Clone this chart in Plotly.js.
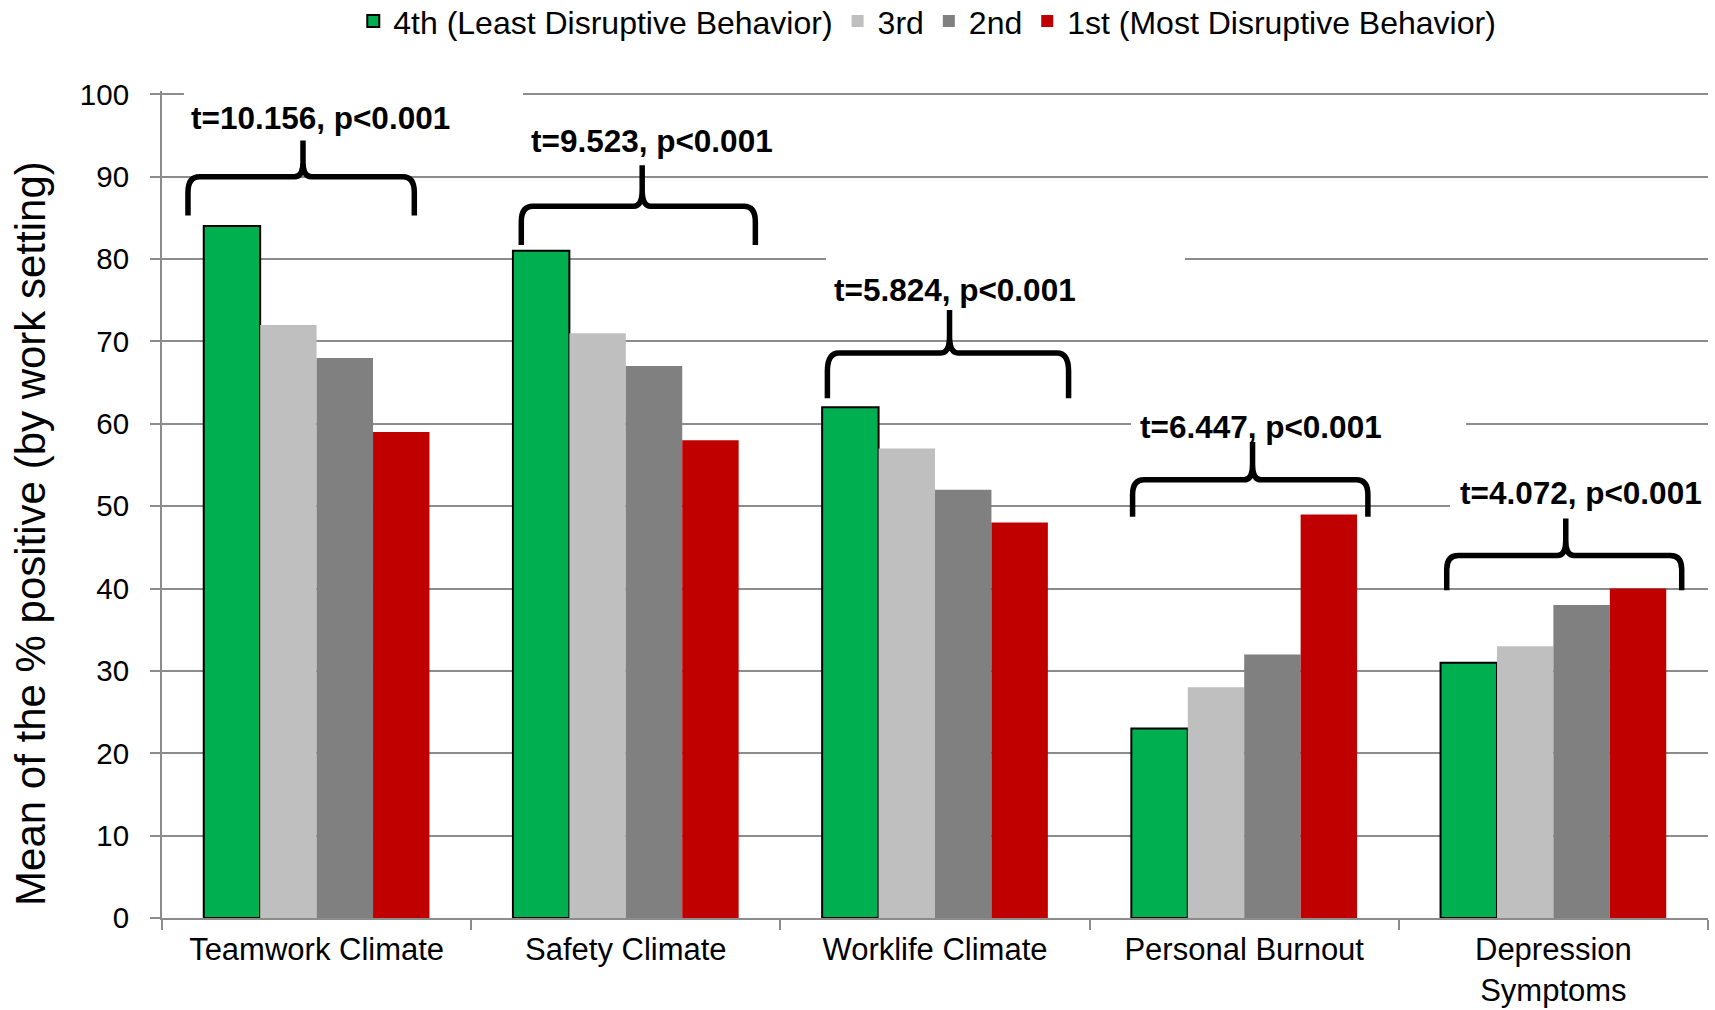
<!DOCTYPE html>
<html>
<head>
<meta charset="utf-8">
<script src="https://cdn.plot.ly/plotly-3.0.1.min.js"></script>
<style>
  html, body { margin: 0; padding: 0; background: #ffffff; }
  #chart { width: 1715px; height: 1010px; }
</style>
</head>
<body>
<div id="chart"></div>
<script>
// ---- Data ----
const categories = ["Teamwork Climate", "Safety Climate", "Worklife Climate", "Personal Burnout", "Depression<br>Symptoms"];
const seriesNames = ["4th (Least Disruptive Behavior)", "3rd", "2nd", "1st (Most Disruptive Behavior)"];
const fourthValues = [84, 81, 62, 23, 31];
const thirdValues  = [72, 71, 57, 28, 33];
const secondValues = [68, 67, 52, 32, 38];
const firstValues  = [59, 58, 48, 49, 40];
const statLabels = ["t=10.156, p&lt;0.001", "t=9.523, p&lt;0.001", "t=5.824, p&lt;0.001", "t=6.447, p&lt;0.001", "t=4.072, p&lt;0.001"];
const yTickValues = [0, 10, 20, 30, 40, 50, 60, 70, 80, 90, 100];
const yTitle = "Mean of the % positive (by work setting)";

// ---- Styles ----
const colors = ["#00B050", "#BFBFBF", "#808080", "#C00000"];
const FONT = "Liberation Sans, Arial, sans-serif";
const GRID = "#8C8C8C";

const valueSets = [fourthValues, thirdValues, secondValues, firstValues];
const traces = valueSets.map((vals, i) => ({
  type: "bar",
  name: seriesNames[i],
  x: categories,
  y: vals,
  marker: {
    color: colors[i],
    line: i === 0 ? { color: "#000000", width: 2 } : { width: 0 }
  },
  hoverinfo: "x+y+name"
}));

// category index -> paper x (5 categories across the domain)
const nCat = categories.length;
const c2p = c => (c + 0.5) / nCat;

// brace decoration geometry (category units / data units)
const braceGeom = [
  { L: -0.416, R: 0.316, C: -0.044, yb: 85.3, yt: 90.0, ytip: 94.4 },
  { L: 0.662,  R: 1.419, C: 1.053,  yb: 81.7, yt: 86.4, ytip: 91.4 },
  { L: 1.652,  R: 2.432, C: 2.047,  yb: 63.1, yt: 68.6, ytip: 73.8 },
  { L: 2.639,  R: 3.400, C: 3.027,  yb: 48.7, yt: 53.2, ytip: 57.8 },
  { L: 3.655,  R: 4.415, C: 4.040,  yb: 39.8, yt: 44.0, ytip: 48.5 }
];
// annotation text positions (paper x, data y)
const labelPos = [
  { x: 0.1022, y: 97.1 },
  { x: 0.3169, y: 94.3 },
  { x: 0.5129, y: 76.3 },
  { x: 0.7109, y: 59.6 },
  { x: 0.9179, y: 51.6 }
];
// white boxes that hide gridlines behind the text boxes (category / data units)
const whiteBoxes = [
  { x0: -0.429, x1: 0.6675, y0: 93,   y1: 100.4, layer: "above" },
  { x0: 1.6475, x1: 2.8085, y0: 72.6, y1: 81,    layer: "between" },
  { x0: 2.634,  x1: 3.7175, y0: 57.5, y1: 62,    layer: "between" },
  { x0: 3.6655, x1: 4.5,    y0: 47.5, y1: 53,    layer: "between" }
];

function bracePath(g) {
  const L = c2p(g.L), R = c2p(g.R), C = c2p(g.C);
  const dx = 0.0075, dxc = 0.0055;
  const h = g.yt - g.yb, r = g.ytip - g.yt;
  const yl = g.yt - 0.4 * h, yc = g.yt + 0.4 * r;
  return `M${L},${g.yb} L${L},${yl} Q${L},${g.yt} ${L + dx},${g.yt} ` +
         `L${C - dxc},${g.yt} Q${C},${g.yt} ${C},${yc} L${C},${g.ytip} ` +
         `L${C},${yc} Q${C},${g.yt} ${C + dxc},${g.yt} ` +
         `L${R - dx},${g.yt} Q${R},${g.yt} ${R},${yl} L${R},${g.yb}`;
}

const shapes = [];
whiteBoxes.forEach(b => shapes.push({
  type: "rect", xref: "x", yref: "y",
  x0: b.x0, x1: b.x1, y0: b.y0, y1: b.y1,
  fillcolor: "#ffffff", line: { width: 0 }, layer: b.layer
}));
braceGeom.forEach(g => shapes.push({
  type: "path", xref: "paper", yref: "y",
  path: bracePath(g),
  line: { color: "#000000", width: 5.5 },
  fillcolor: "rgba(0,0,0,0)",
  layer: "above"
}));

const annotations = statLabels.map((t, i) => ({
  text: "<b>" + t + "</b>",
  xref: "paper", yref: "y",
  x: labelPos[i].x, y: labelPos[i].y,
  xanchor: "center", yanchor: "middle",
  showarrow: false,
  font: { family: FONT, size: 31.5, color: "#000000" }
}));
// y-axis title (placed as rotated text so it sits where the original has it)
annotations.push({
  text: yTitle,
  xref: "paper", yref: "paper",
  x: -0.0855, y: 0.4654,
  xanchor: "center", yanchor: "middle",
  textangle: -90,
  showarrow: false,
  font: { family: FONT, size: 42, color: "#000000" }
});

const layout = {
  width: 1715,
  height: 1010,
  paper_bgcolor: "#ffffff",
  plot_bgcolor: "#ffffff",
  font: { family: FONT, color: "#000000" },
  margin: { l: 162, r: 7, t: 90.7, b: 92, autoexpand: false },
  barmode: "group",
  bargap: 0.27,
  bargroupgap: 0,
  showlegend: true,
  legend: {
    orientation: "h",
    x: 0.495, xanchor: "center",
    y: 1.0843, yanchor: "middle",
    font: { family: FONT, size: 32, color: "#000000" },
    traceorder: "normal",
    itemclick: false, itemdoubleclick: false
  },
  xaxis: {
    type: "category",
    range: [-0.5, 4.5],
    autorange: false,
    automargin: false,
    showline: true, linecolor: GRID, linewidth: 2,
    ticks: "outside", tickson: "boundaries", ticklen: 10, tickwidth: 2, tickcolor: GRID,
    ticklabelstandoff: 3,
    showgrid: false,
    tickfont: { family: FONT, size: 31, color: "#000000" },
    fixedrange: true
  },
  yaxis: {
    range: [0, 100.4],
    autorange: false,
    tickmode: "array",
    tickvals: yTickValues,
    automargin: false,
    showline: true, linecolor: GRID, linewidth: 2,
    ticks: "outside", ticklen: 10, tickwidth: 2, tickcolor: GRID,
    ticklabelstandoff: 15,
    showgrid: true, gridcolor: GRID, gridwidth: 2,
    zeroline: false,
    tickfont: { family: FONT, size: 29.5, color: "#000000" },
    fixedrange: true
  },
  shapes: shapes,
  annotations: annotations
};

Plotly.newPlot("chart", traces, layout, { displayModeBar: false, responsive: false });
</script>
</body>
</html>
